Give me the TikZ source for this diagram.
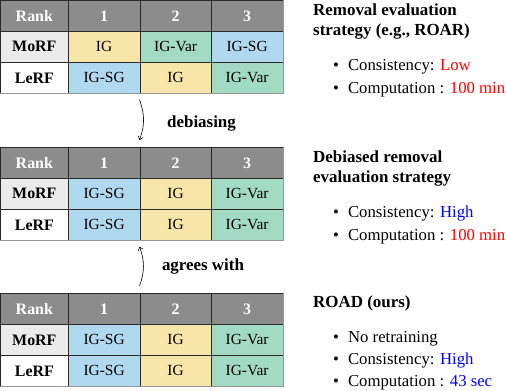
\documentclass[tikz,border=0pt]{standalone}
\usepackage{fontspec}
\setmainfont{Liberation Serif}[BoldFont={Liberation Serif Bold}]
\usetikzlibrary{arrows.meta,positioning}
\definecolor{headgray}{RGB}{140,140,140}
\definecolor{morfgray}{RGB}{235,235,235}
\definecolor{igyellow}{RGB}{248,229,170}
\definecolor{vargreen}{RGB}{163,218,196}
\definecolor{sgblue}{RGB}{176,217,240}
\definecolor{gridline}{RGB}{40,40,40}
\definecolor{framegray}{RGB}{150,150,150}

\begin{document}
\begin{tikzpicture}[x=1bp, y=-1bp,
  cell/.style={draw=gridline, line width=.7bp, minimum width=71.5bp, minimum height=31bp, inner sep=0pt, anchor=north west, font=\fontsize{15.5}{18}\selectfont},
  headcell/.style={cell, fill=headgray, text=white, font=\fontsize{16}{18}\selectfont\bfseries},
  labelcell/.style={cell, minimum width=68bp, font=\fontsize{16}{18}\selectfont\bfseries},
  ig/.style={cell, fill=igyellow},
  igvar/.style={cell, fill=vargreen},
  igsg/.style={cell, fill=sgblue},
  flow/.style={-{Straight Barb[length=3bp,width=5bp]}, line width=.6bp},
  heading/.style={anchor=base west, align=left, inner sep=0pt, font=\fontsize{17}{20}\selectfont\bfseries},
  item/.style={anchor=base west, inner sep=0pt, font=\fontsize{16.8}{20}\selectfont}]
  \useasboundingbox (0,0) rectangle (506,390);

  % three ranking tables, same header and row labels
  \foreach \t/\y in {roar/0, debias/147, road/293} {
    \node[headcell, minimum width=68bp] (\t-rank) at (0,\y) {Rank};
    \node[headcell] (\t-c1) at (68,\y) {1};
    \node[headcell] (\t-c2) at (139.5,\y) {2};
    \node[headcell] (\t-c3) at (211,\y) {3};
    \node[labelcell, fill=morfgray] (\t-morf) at (0,\y+31) {MoRF};
    \node[labelcell, fill=white] (\t-lerf) at (0,\y+62) {LeRF};
  }

  \node[ig] (roar-m1) at (68,31) {IG};
  \node[igvar] (roar-m2) at (139.5,31) {IG-Var};
  \node[igsg] (roar-m3) at (211,31) {IG-SG};
  \node[igsg] (roar-l1) at (68,62) {IG-SG};
  \node[ig] (roar-l2) at (139.5,62) {IG};
  \node[igvar] (roar-l3) at (211,62) {IG-Var};

  \node[igsg] (debias-m1) at (68,178) {IG-SG};
  \node[ig] (debias-m2) at (139.5,178) {IG};
  \node[igvar] (debias-m3) at (211,178) {IG-Var};
  \node[igsg] (debias-l1) at (68,209) {IG-SG};
  \node[ig] (debias-l2) at (139.5,209) {IG};
  \node[igvar] (debias-l3) at (211,209) {IG-Var};

  \node[igsg] (road-m1) at (68,324) {IG-SG};
  \node[ig] (road-m2) at (139.5,324) {IG};
  \node[igvar] (road-m3) at (211,324) {IG-Var};
  \node[igsg] (road-l1) at (68,355) {IG-SG};
  \node[ig] (road-l2) at (139.5,355) {IG};
  \node[igvar] (road-l3) at (211,355) {IG-Var};

  \foreach \t in {roar, debias, road}
    \draw[framegray, line width=.8bp] (\t-c3.north east) |- (\t-lerf.south west);

  % arrows between the tables
  \draw[flow] ([yshift=-6bp]roar-l2.south west) to[bend left=20] ([yshift=7bp]debias-c2.north west);
  \node[font=\fontsize{17}{20}\selectfont\bfseries, anchor=base] (debiasing) at (201.5,127) {debiasing};
  \draw[flow] ([yshift=7bp]road-c2.north west) to[bend right=20] ([yshift=-6bp]debias-l2.south west);
  \node[font=\fontsize{17}{20}\selectfont\bfseries, anchor=base] (agrees) at (203,270) {agrees with};

  % descriptions
  \node[heading] (roarhead) at (313,35) {Removal evaluation\\strategy (e.g., ROAR)};
  \node[item] (roarcons) at (333,70) {\textbullet\hspace{9bp}Consistency: \textcolor{red}{Low}};
  \node[item] (roarcomp) at (333,93) {\textbullet\hspace{9bp}Computation : \textcolor{red}{100 min}};

  \node[heading] (debiashead) at (313,182) {Debiased removal\\evaluation strategy};
  \node[item] (debiascons) at (333,217) {\textbullet\hspace{9bp}Consistency: \textcolor{blue}{High}};
  \node[item] (debiascomp) at (333,240) {\textbullet\hspace{9bp}Computation : \textcolor{red}{100 min}};

  \node[heading] (roadhead) at (313,307) {ROAD (ours)};
  \node[item] (roadretrain) at (333,342) {\textbullet\hspace{9bp}No retraining};
  \node[item] (roadcons) at (333,364) {\textbullet\hspace{9bp}Consistency: \textcolor{blue}{High}};
  \node[item] (roadcomp) at (333,386) {\textbullet\hspace{9bp}Computation : \textcolor{blue}{43 sec}};
\end{tikzpicture}
\end{document}
